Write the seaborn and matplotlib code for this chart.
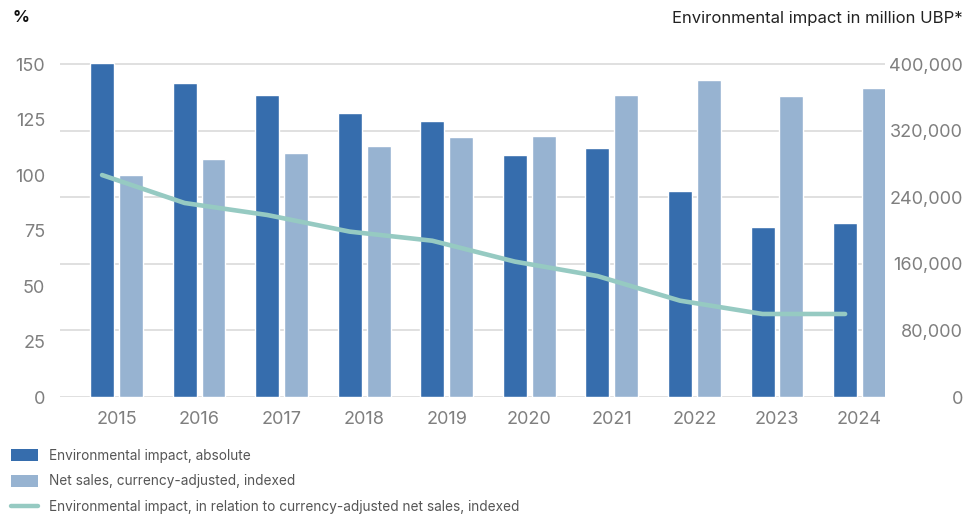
import numpy as np
import pandas as pd
import matplotlib
matplotlib.use("Agg")
import matplotlib.pyplot as plt
import seaborn as sns
from matplotlib.patches import Patch
from matplotlib.lines import Line2D

years = ["2015", "2016", "2017", "2018", "2019", "2020", "2021", "2022", "2023", "2024"]
impact_abs = [401000, 377000, 363000, 341000, 331500, 291000, 299000, 247500, 204000, 209000]
sales_idx = [100.0, 107.2, 109.9, 113.1, 117.1, 117.6, 136.0, 142.8, 135.6, 139.2]
impact_rel = [100.0, 87.4, 82.0, 74.5, 70.4, 61.0, 54.5, 43.4, 37.4, 37.4]

left_ticks = [0, 25, 50, 75, 100, 125, 150]
right_ticks = [0, 80000, 160000, 240000, 320000, 400000]
right_labels = ["0", "80,000", "160,000", "240,000", "320,000", "400,000"]

names = ["Environmental impact, absolute", "Net sales, currency-adjusted, indexed",
         "Environmental impact, in relation to currency-adjusted net sales, indexed"]
c_dark, c_light, c_line = "#366DAD", "#97B3D1", "#96CAC2"

sns.set_theme(style="white")
plt.rcParams["font.family"] = ["Inter", "DejaVu Sans"]

fig = plt.figure(figsize=(9.66, 5.15), dpi=100)
ax = fig.add_axes([60/966, 118/515, (885-60)/966, (397-59.6)/515])
ax2 = ax.twinx()

n = len(years)
df_r = pd.DataFrame({"year": years * 2,
                     "series": [names[0]] * n + [names[1]] * n,
                     "val": impact_abs + [np.nan] * n})
df_l = pd.DataFrame({"year": years * 2,
                     "series": [names[0]] * n + [names[1]] * n,
                     "val": [np.nan] * n + sales_idx})

pal = {names[0]: c_dark, names[1]: c_light}
sns.barplot(data=df_r, x="year", y="val", hue="series", hue_order=names[:2], palette=pal,
            width=0.7, gap=0.171, ax=ax, legend=False, saturation=1, errorbar=None)
sns.barplot(data=df_l, x="year", y="val", hue="series", hue_order=names[:2], palette=pal,
            width=0.7, gap=0.171, ax=ax2, legend=False, saturation=1, errorbar=None)

df_line = pd.DataFrame({"x": np.arange(n) - 0.175, "val": impact_rel})
sns.lineplot(data=df_line, x="x", y="val", ax=ax2, color=c_line, linewidth=3.3,
             solid_joinstyle="round", solid_capstyle="round")

ax.set_xlim((60 - 116.5) / 82.56, (885 - 116.5) / 82.56)
ax2.set_xlim(ax.get_xlim())
ax2.set_ylim(0, 152)
ax.set_ylim(0, 152 / 150 * 400000)

for a in (ax, ax2):
    for s in a.spines.values():
        s.set_visible(False)
    a.set_xlabel("")
    a.set_ylabel("")

ax.grid(axis="y", color="#DADADA", linewidth=1.2)
ax.set_axisbelow(True)
ax.yaxis.tick_right()
ax2.yaxis.tick_left()
ax.tick_params(axis="y", length=0, pad=56, labelsize=13, labelcolor="#7F7F7F")
ax2.tick_params(axis="y", length=0, pad=10.8, labelsize=13, labelcolor="#7F7F7F")
ax.tick_params(axis="x", length=0, pad=10, labelsize=13, labelcolor="#7F7F7F")
ax2.tick_params(axis="x", length=0, labelbottom=False)
ax2.set_yticks(left_ticks)
ax.set_yticks(right_ticks, labels=right_labels, ha="right")

fig.text(12/966, 1 - 18/515, "%", fontsize=12, fontweight="bold", color="#111111", va="center")
fig.text(963/966, 1 - 18/515, "Environmental impact in million UBP*", fontsize=12,
         color="#222222", va="center", ha="right")

handles = [Patch(facecolor=c_dark, edgecolor="none"),
           Patch(facecolor=c_light, edgecolor="none"),
           Line2D([0], [0], color=c_line, linewidth=3.2)]
fig.legend(handles, names, loc="upper left", bbox_to_anchor=(0/966, 1 - 438/515), frameon=False,
           fontsize=9.8, labelcolor="#555555", handlelength=2.0, handleheight=0.95,
           handletextpad=0.8, labelspacing=0.85, borderpad=0.3)

fig.savefig("out.png", dpi=100)
